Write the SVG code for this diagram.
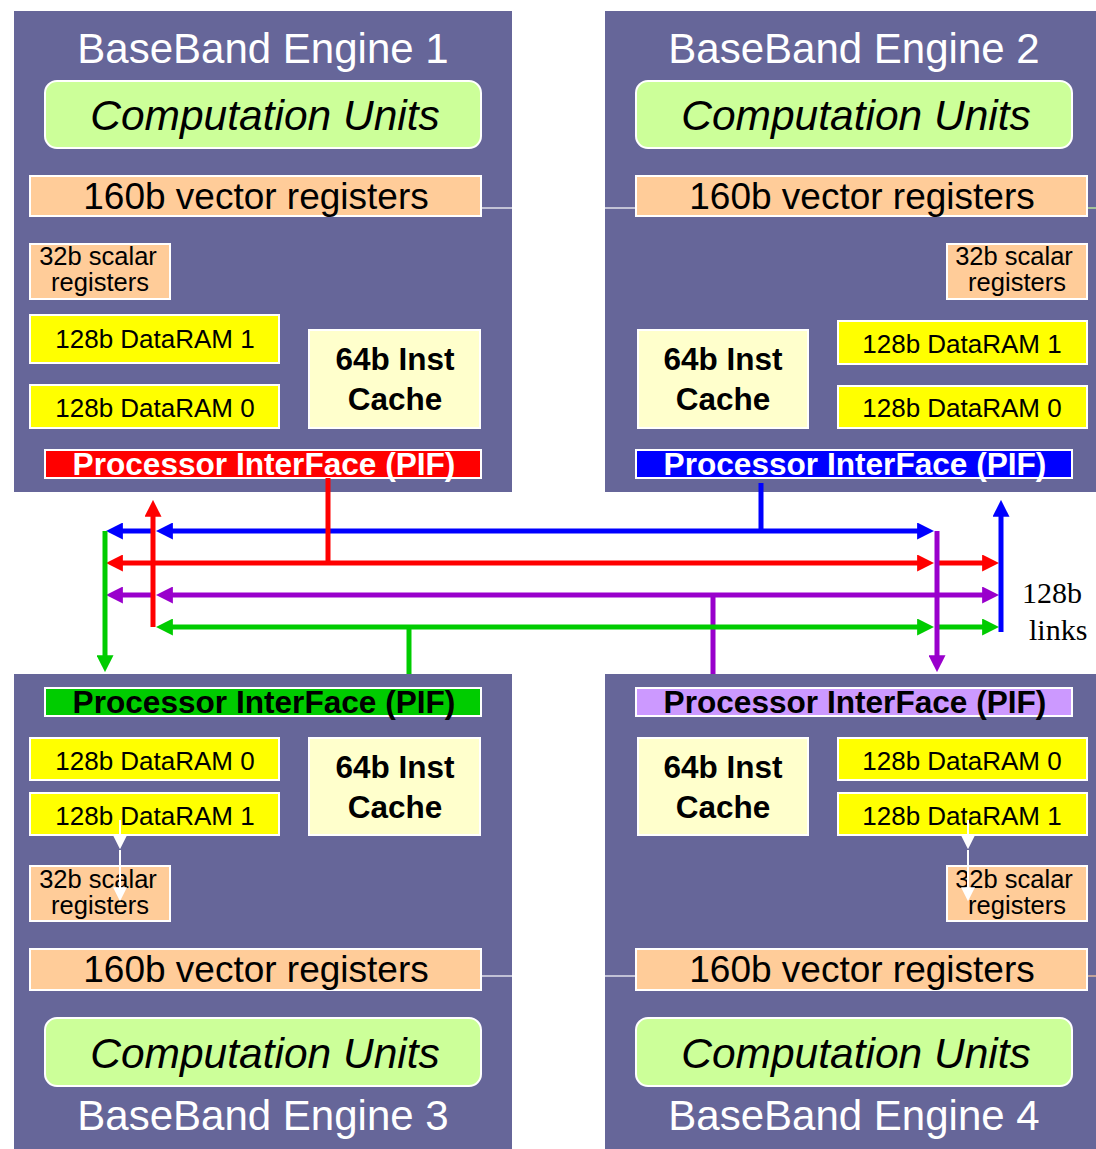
<svg xmlns="http://www.w3.org/2000/svg" width="1096" height="1149" viewBox="0 0 1096 1149">
<style>
.eng{fill:#666699}
.box{stroke:#ffffff;stroke-width:2}
.cu{fill:#ccff99}
.vr{fill:#ffcc99}
.sr{fill:#ffcc99}
.dr{fill:#ffff00}
.ic{fill:#ffffcc}
.t{font-family:"Liberation Sans",Arial,sans-serif;text-anchor:middle;fill:#000}
.title{font-size:42px;fill:#fff}
.cut{font-size:42.5px;font-style:italic}
.vrt{font-size:37px}
.srt{font-size:25.5px}
.drt{font-size:26px}
.ict{font-size:31.5px;font-weight:bold}
.pift{font-size:31.6px;font-weight:bold}
.thin{stroke-width:1.2;fill:none}
.c{fill:none;stroke-width:5}
.wa{fill:none;stroke:#fff;stroke-width:2}
</style>
<defs>
<marker id="mB" viewBox="0 0 10 10" refX="0.5" refY="5" markerUnits="userSpaceOnUse" markerWidth="17" markerHeight="17" orient="auto"><path d="M0,0 L10,5 L0,10 z" fill="#0000ff"/></marker>
<marker id="mR" viewBox="0 0 10 10" refX="0.5" refY="5" markerUnits="userSpaceOnUse" markerWidth="17" markerHeight="17" orient="auto"><path d="M0,0 L10,5 L0,10 z" fill="#ff0000"/></marker>
<marker id="mP" viewBox="0 0 10 10" refX="0.5" refY="5" markerUnits="userSpaceOnUse" markerWidth="17" markerHeight="17" orient="auto"><path d="M0,0 L10,5 L0,10 z" fill="#9900cc"/></marker>
<marker id="mG" viewBox="0 0 10 10" refX="0.5" refY="5" markerUnits="userSpaceOnUse" markerWidth="17" markerHeight="17" orient="auto"><path d="M0,0 L10,5 L0,10 z" fill="#00cc00"/></marker>
<marker id="mW" viewBox="0 0 10 10" refX="0.5" refY="5" markerUnits="userSpaceOnUse" markerWidth="15" markerHeight="14" orient="auto"><path d="M0,0 L10,5 L0,10 z" fill="#ffffff"/></marker>
</defs>
<rect width="1096" height="1149" fill="#fff"/>

<g id="engine1">
<rect class="eng" x="14" y="11" width="498" height="481"/>
<text class="t title" x="263" y="63">BaseBand Engine 1</text>
<g id="e1-cu"><rect class="box cu" x="45" y="81" width="436" height="67" rx="12"/><text class="t cut" x="265" y="130">Computation Units</text></g>
<line class="thin" x1="481" y1="208" x2="512" y2="208" stroke="#fff"/>
<g id="e1-vr"><rect class="box vr" x="30" y="176" width="451" height="40"/><text class="t vrt" x="256" y="209">160b vector registers</text></g>
<g id="e1-sr"><rect class="box sr" x="30" y="244" width="140" height="55"/><text class="t srt" x="98" y="265">32b scalar</text><text class="t srt" x="100" y="291">registers</text></g>
<g id="e1-dr1"><rect class="box dr" x="30" y="315" width="249" height="48"/><text class="t drt" x="155" y="348">128b DataRAM 1</text></g>
<g id="e1-dr0"><rect class="box dr" x="30" y="385" width="249" height="43"/><text class="t drt" x="155" y="417">128b DataRAM 0</text></g>
<g id="e1-ic"><rect class="box ic" x="309" y="330" width="171" height="98"/><text class="t ict" x="395" y="370">64b Inst</text><text class="t ict" x="395" y="410">Cache</text></g>
<g id="e1-pif"><rect class="box" fill="#ff0000" x="45" y="450" width="436" height="28"/><text class="t pift" x="264" y="475" style="fill:#fff">Processor InterFace (PIF)</text></g>
</g>

<g id="engine2">
<rect class="eng" x="605" y="11" width="491" height="481"/>
<text class="t title" x="854" y="63">BaseBand Engine 2</text>
<g id="e2-cu"><rect class="box cu" x="636" y="81" width="436" height="67" rx="12"/><text class="t cut" x="856" y="130">Computation Units</text></g>
<line class="thin" x1="605" y1="208" x2="636" y2="208" stroke="#fff"/>
<line class="thin" x1="1087" y1="208" x2="1096" y2="208" stroke="#ccff99"/>
<g id="e2-vr"><rect class="box vr" x="636" y="176" width="451" height="40"/><text class="t vrt" x="862" y="209">160b vector registers</text></g>
<g id="e2-sr"><rect class="box sr" x="947" y="244" width="140" height="55"/><text class="t srt" x="1014" y="265">32b scalar</text><text class="t srt" x="1017" y="291">registers</text></g>
<g id="e2-ic"><rect class="box ic" x="638" y="330" width="170" height="98"/><text class="t ict" x="723" y="370">64b Inst</text><text class="t ict" x="723" y="410">Cache</text></g>
<g id="e2-dr1"><rect class="box dr" x="838" y="321" width="249" height="43"/><text class="t drt" x="962" y="353">128b DataRAM 1</text></g>
<g id="e2-dr0"><rect class="box dr" x="838" y="386" width="249" height="42"/><text class="t drt" x="962" y="417">128b DataRAM 0</text></g>
<g id="e2-pif"><rect class="box" fill="#0000ff" x="636" y="450" width="436" height="28"/><text class="t pift" x="855" y="475" style="fill:#fff">Processor InterFace (PIF)</text></g>
</g>

<g id="engine3">
<rect class="eng" x="14" y="674" width="498" height="475"/>
<g id="e3-pif"><rect class="box" fill="#00cc00" x="45" y="688" width="436" height="28"/><text class="t pift" x="264" y="713">Processor InterFace (PIF)</text></g>
<g id="e3-dr0"><rect class="box dr" x="30" y="738" width="249" height="42"/><text class="t drt" x="155" y="770">128b DataRAM 0</text></g>
<g id="e3-dr1"><rect class="box dr" x="30" y="793" width="249" height="42"/><text class="t drt" x="155" y="825">128b DataRAM 1</text></g>
<g id="e3-ic"><rect class="box ic" x="309" y="738" width="171" height="97"/><text class="t ict" x="395" y="778">64b Inst</text><text class="t ict" x="395" y="818">Cache</text></g>
<g id="e3-sr"><rect class="box sr" x="30" y="866" width="140" height="55"/><text class="t srt" x="98" y="888">32b scalar</text><text class="t srt" x="100" y="914">registers</text></g>
<line class="thin" x1="481" y1="976" x2="512" y2="976" stroke="#fff"/>
<g id="e3-vr"><rect class="box vr" x="30" y="949" width="451" height="41"/><text class="t vrt" x="256" y="982">160b vector registers</text></g>
<g id="e3-cu"><rect class="box cu" x="45" y="1018" width="436" height="68" rx="12"/><text class="t cut" x="265" y="1068">Computation Units</text></g>
<text class="t title" x="263" y="1130">BaseBand Engine 3</text>
</g>

<g id="engine4">
<rect class="eng" x="605" y="674" width="491" height="475"/>
<g id="e4-pif"><rect class="box" fill="#cc99ff" x="636" y="688" width="436" height="28"/><text class="t pift" x="855" y="713">Processor InterFace (PIF)</text></g>
<g id="e4-ic"><rect class="box ic" x="638" y="738" width="170" height="97"/><text class="t ict" x="723" y="778">64b Inst</text><text class="t ict" x="723" y="818">Cache</text></g>
<g id="e4-dr0"><rect class="box dr" x="838" y="738" width="249" height="42"/><text class="t drt" x="962" y="770">128b DataRAM 0</text></g>
<g id="e4-dr1"><rect class="box dr" x="838" y="793" width="249" height="42"/><text class="t drt" x="962" y="825">128b DataRAM 1</text></g>
<g id="e4-sr"><rect class="box sr" x="947" y="866" width="140" height="55"/><text class="t srt" x="1014" y="888">32b scalar</text><text class="t srt" x="1017" y="914">registers</text></g>
<line class="thin" x1="605" y1="976" x2="636" y2="976" stroke="#fff"/>
<line class="thin" x1="1087" y1="976" x2="1096" y2="976" stroke="#ffcc99"/>
<g id="e4-vr"><rect class="box vr" x="636" y="949" width="451" height="41"/><text class="t vrt" x="862" y="982">160b vector registers</text></g>
<g id="e4-cu"><rect class="box cu" x="636" y="1018" width="436" height="68" rx="12"/><text class="t cut" x="856" y="1068">Computation Units</text></g>
<text class="t title" x="854" y="1130">BaseBand Engine 4</text>
</g>

<g id="connectors">
<path class="wa" d="M120,820 V836" marker-end="url(#mW)"/>
<path class="wa" d="M120,850 V888" marker-end="url(#mW)"/>
<path class="wa" d="M968,820 V836" marker-end="url(#mW)"/>
<path class="wa" d="M968,850 V888" marker-end="url(#mW)"/>

<path class="c" stroke="#0000ff" d="M761,483 V531"/>
<path class="c" stroke="#0000ff" d="M761,531 H172" marker-end="url(#mB)"/>
<path class="c" stroke="#0000ff" d="M155,531 H122" marker-end="url(#mB)"/>
<path class="c" stroke="#0000ff" d="M761,531 H918" marker-end="url(#mB)"/>

<path class="c" stroke="#ff0000" d="M328,478 V563"/>
<path class="c" stroke="#ff0000" d="M328,563 H122" marker-end="url(#mR)"/>
<path class="c" stroke="#ff0000" d="M328,563 H918" marker-end="url(#mR)"/>
<path class="c" stroke="#ff0000" d="M937,563 H983" marker-end="url(#mR)"/>

<path class="c" stroke="#9900cc" d="M713,674 V595"/>
<path class="c" stroke="#9900cc" d="M713,595 H172" marker-end="url(#mP)"/>
<path class="c" stroke="#9900cc" d="M155,595 H122" marker-end="url(#mP)"/>
<path class="c" stroke="#9900cc" d="M713,595 H983" marker-end="url(#mP)"/>

<path class="c" stroke="#00cc00" d="M409,674 V627"/>
<path class="c" stroke="#00cc00" d="M409,627 H172" marker-end="url(#mG)"/>
<path class="c" stroke="#00cc00" d="M409,627 H918" marker-end="url(#mG)"/>
<path class="c" stroke="#00cc00" d="M937,627 H983" marker-end="url(#mG)"/>
<path class="c" stroke="#00cc00" d="M105,531 V656" marker-end="url(#mG)"/>

<path class="c" stroke="#ff0000" d="M153,627 V516" marker-end="url(#mR)"/>
<path class="c" stroke="#9900cc" d="M937,531 V656" marker-end="url(#mP)"/>
<path class="c" stroke="#0000ff" d="M1001,632 V516" marker-end="url(#mB)"/>
</g>

<text x="1022" y="603" font-family="'Liberation Serif','Times New Roman',serif" font-size="30" fill="#000">128b</text>
<text x="1029" y="640" font-family="'Liberation Serif','Times New Roman',serif" font-size="30" fill="#000">links</text>
</svg>
